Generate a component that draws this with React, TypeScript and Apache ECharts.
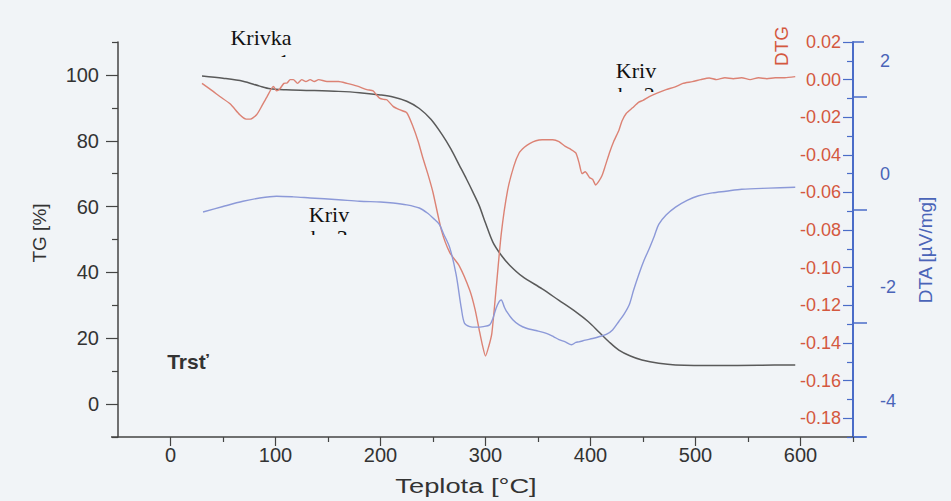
import React, { useEffect, useRef } from "react";
import * as echarts from "echarts";

// ---- Data ----
const TG_T = [30, 50, 69, 85, 95, 110, 133, 160, 180, 200, 212, 225, 237, 248, 259, 267, 275, 282, 288, 294, 300, 307, 315, 323, 335, 354, 370, 386, 398, 408, 418, 427, 438, 449, 465, 481, 520, 560, 595];
const TG_V = [99.7, 99.0, 98.1, 96.6, 95.8, 95.5, 95.3, 95.0, 94.6, 93.9, 93.3, 92.0, 89.8, 86.5, 81.7, 77.5, 72.6, 68.3, 64.4, 60.3, 55.0, 49.2, 45.2, 42.2, 38.8, 35.0, 31.5, 28.0, 25.0, 21.9, 18.8, 16.4, 14.6, 13.4, 12.4, 11.9, 11.7, 11.8, 11.9];

const DTG_T = [30, 40, 47, 57, 66, 72, 76, 82, 87, 92, 98, 101, 104, 108, 111, 114, 117, 121, 125, 129, 133, 137, 141, 149, 160, 168, 178, 187, 193, 196, 199, 203, 206, 212, 218, 225, 231, 236, 240, 245, 250, 258, 266, 275, 285, 290, 294, 297, 300, 303, 306, 310, 315, 321, 327, 332, 337, 342, 348, 354, 364, 370, 376, 381, 386, 389, 392, 395, 399, 402, 405, 408, 411, 414, 418, 422, 427, 430, 434, 440, 446, 450, 456, 464, 472, 480, 488, 497, 505, 513, 520, 528, 536, 544, 552, 560, 568, 576, 585, 595];
const DTG_V = [-0.002, -0.006, -0.009, -0.013, -0.0187, -0.021, -0.021, -0.0187, -0.014, -0.009, -0.0036, -0.006, -0.005, -0.002, -0.0018, 0.0, 0.0, -0.002, 0.0, -0.001, 0.0, -0.001, 0.0, -0.001, -0.001, -0.002, -0.0035, -0.0053, -0.006, -0.008, -0.0098, -0.0105, -0.0107, -0.0142, -0.016, -0.0176, -0.025, -0.033, -0.041, -0.05, -0.06, -0.08, -0.092, -0.099, -0.112, -0.122, -0.133, -0.141, -0.147, -0.142, -0.135, -0.112, -0.082, -0.059, -0.046, -0.039, -0.036, -0.034, -0.0325, -0.032, -0.032, -0.033, -0.0355, -0.037, -0.039, -0.044, -0.05, -0.049, -0.052, -0.053, -0.056, -0.054, -0.051, -0.046, -0.039, -0.033, -0.027, -0.022, -0.018, -0.015, -0.012, -0.011, -0.009, -0.007, -0.0053, -0.004, -0.002, -0.0011, 0.0, 0.0009, 0.0, 0.001, 0.0005, 0.001, 0.0, 0.001, 0.0005, 0.001, 0.001, 0.0016];

const DTA_T = [31, 50, 69, 85, 101, 117, 133, 160, 180, 200, 212, 225, 237, 245, 250, 256, 260, 266, 272, 277, 280, 285, 291, 298, 304, 307, 310, 313, 315, 318, 320, 326, 332, 339, 348, 358, 365, 370, 376, 382, 386, 389, 395, 402, 408, 415, 421, 427, 432, 437, 441, 446, 451, 456, 461, 465, 472, 481, 492, 503, 516, 529, 544, 570, 595];
const DTA_V = [-0.667, -0.57, -0.478, -0.42, -0.389, -0.4, -0.419, -0.45, -0.478, -0.49, -0.507, -0.54, -0.596, -0.69, -0.773, -0.885, -1.05, -1.3, -1.77, -2.37, -2.63, -2.69, -2.7, -2.69, -2.66, -2.55, -2.37, -2.25, -2.22, -2.35, -2.42, -2.57, -2.66, -2.72, -2.76, -2.81, -2.87, -2.92, -2.96, -3.01, -2.97, -2.96, -2.93, -2.9, -2.87, -2.83, -2.75, -2.6, -2.47, -2.3, -2.05, -1.77, -1.52, -1.31, -1.08, -0.885, -0.72, -0.58, -0.46, -0.38, -0.33, -0.3, -0.265, -0.245, -0.23];

const X_LABELS = [0, 100, 200, 300, 400, 500, 600];
const X_MINOR = [50, 150, 250, 350, 450, 550, 650];
const TG_LABELS = [0, 20, 40, 60, 80, 100];
const TG_MINOR = [-10, 10, 30, 50, 70, 90, 110];
const DTG_LABELS = [0.02, 0.0, -0.02, -0.04, -0.06, -0.08, -0.1, -0.12, -0.14, -0.16, -0.18];
const DTG_MINOR = [0.01, -0.01, -0.03, -0.05, -0.07, -0.09, -0.11, -0.13, -0.15, -0.17, -0.19];
const DTA_LABELS = [2, 0, -2, -4];
const DTA_TICKS = [1.37, -0.63, -2.63, -4.63];

const zip = (a: number[], b: number[]) => a.map((t, i) => [t, b[i]]);

const SANS = "Liberation Sans, Arial, sans-serif";
const SERIF = "Liberation Serif, Times New Roman, serif";
const BG = "#f1f4f7";
const RED = "#d4583f";
const BLUE = "#4a64b8";
const AXIS_BLUE = "#4a6cc8";

export default function App() {
  const ref = useRef<HTMLDivElement>(null);
  useEffect(() => {
    if (!ref.current) return;
    const chart = echarts.init(ref.current, null, { renderer: "svg" });
    const option: any = {
      animation: false,
      backgroundColor: BG,
      grid: { left: 118, right: 98, top: 42, bottom: 64, outerBoundsMode: "none" },
      xAxis: [
        {
          type: "value",
          min: -50,
          max: 650,
          position: "bottom",
          axisLine: { show: true, onZero: false, lineStyle: { color: "#444", width: 1.5 } },
          axisTick: { show: true, customValues: X_LABELS, length: 9, lineStyle: { color: "#444", width: 1.2 } },
          axisLabel: { customValues: X_LABELS, fontSize: 20, color: "#333", margin: 8, fontFamily: SANS },
          splitLine: { show: false },
        },
        {
          type: "value",
          min: -50,
          max: 650,
          position: "bottom",
          axisLine: { show: false, onZero: false },
          axisTick: { show: true, customValues: X_MINOR, length: 5, lineStyle: { color: "#444", width: 1.2 } },
          axisLabel: { show: false },
          splitLine: { show: false },
        },
      ],
      yAxis: [
        {
          type: "value",
          min: -10,
          max: 110,
          position: "left",
          axisLine: { show: true, onZero: false, lineStyle: { color: "#444", width: 1.5 } },
          axisTick: { show: true, customValues: TG_LABELS, length: 12, lineStyle: { color: "#444", width: 1.2 } },
          axisLabel: { customValues: TG_LABELS, fontSize: 20, color: "#333", margin: 19, fontFamily: SANS },
          splitLine: { show: false },
        },
        {
          type: "value",
          min: -0.19,
          max: 0.02,
          position: "right",
          axisLine: { show: false, onZero: false },
          axisTick: { show: true, inside: true, customValues: DTG_LABELS, length: 10, lineStyle: { color: AXIS_BLUE, width: 1.2 } },
          axisLabel: {
            inside: true,
            customValues: DTG_LABELS,
            formatter: (v: number) => (Math.abs(v) < 1e-9 ? "0.00" : v.toFixed(2)),
            fontSize: 18,
            color: RED,
            margin: 12,
            fontFamily: SANS,
          },
          splitLine: { show: false },
        },
        {
          type: "value",
          min: -4.64,
          max: 2.335,
          position: "right",
          axisLine: { show: true, onZero: false, lineStyle: { color: AXIS_BLUE, width: 2 } },
          axisTick: { show: true, customValues: DTA_TICKS, length: 14, lineStyle: { color: AXIS_BLUE, width: 1.5 } },
          axisLabel: { customValues: DTA_LABELS, fontSize: 18, color: BLUE, margin: 27, fontFamily: SANS },
          splitLine: { show: false },
        },
        {
          type: "value",
          min: -10,
          max: 110,
          position: "left",
          axisLine: { show: false, onZero: false },
          axisTick: { show: true, customValues: TG_MINOR, length: 6, lineStyle: { color: "#444", width: 1.2 } },
          axisLabel: { show: false },
          splitLine: { show: false },
        },
        {
          type: "value",
          min: -0.19,
          max: 0.02,
          position: "right",
          axisLine: { show: false, onZero: false },
          axisTick: { show: true, inside: true, customValues: DTG_MINOR, length: 6, lineStyle: { color: AXIS_BLUE, width: 1.2 } },
          axisLabel: { show: false },
          splitLine: { show: false },
        },
      ],
      series: [
        {
          name: "TG",
          type: "line",
          xAxisIndex: 0,
          yAxisIndex: 0,
          data: zip(TG_T, TG_V),
          showSymbol: false,
          symbol: "none",
          smooth: 0.3,
          lineStyle: { color: "#5a5a5a", width: 1.5 },
        },
        {
          name: "DTG",
          type: "line",
          xAxisIndex: 0,
          yAxisIndex: 1,
          data: zip(DTG_T, DTG_V),
          showSymbol: false,
          symbol: "none",
          smooth: 0.2,
          lineStyle: { color: "#dc8274", width: 1.4 },
        },
        {
          name: "DTA",
          type: "line",
          xAxisIndex: 0,
          yAxisIndex: 2,
          data: zip(DTA_T, DTA_V),
          showSymbol: false,
          symbol: "none",
          smooth: 0.3,
          lineStyle: { color: "#8c99d8", width: 1.4 },
        },
      ],
      graphic: [
        // axis line overhangs
        { type: "line", z: 0, shape: { x1: 111, y1: 437, x2: 118, y2: 437 }, style: { stroke: "#444", lineWidth: 1.5 } },
        { type: "line", z: 0, shape: { x1: 853, y1: 437, x2: 866, y2: 437 }, style: { stroke: AXIS_BLUE, lineWidth: 1.5 } },
        { type: "line", z: 0, shape: { x1: 853, y1: 42, x2: 864, y2: 42 }, style: { stroke: AXIS_BLUE, lineWidth: 1.5 } },
        // axis names
        { type: "text", x: 39, y: 233, rotation: Math.PI / 2, z: 0, style: { text: "TG [%]", font: `19px ${SANS}`, fill: "#333", align: "center", verticalAlign: "middle" } },
        { type: "text", x: 781, y: 46, rotation: Math.PI / 2, z: 0, style: { text: "DTG", font: `19px ${SANS}`, fill: RED, align: "center", verticalAlign: "middle" } },
        { type: "text", x: 925, y: 250, rotation: Math.PI / 2, z: 0, style: { text: "DTA [µV/mg]", font: `19px ${SANS}`, fill: BLUE, align: "center", verticalAlign: "middle" } },
        { type: "text", x: 466, y: 486, scaleX: 1.3, z: 0, style: { text: "Teplota [°C]", font: `21px ${SANS}`, fill: "#333", align: "center", verticalAlign: "middle" } },
        { type: "text", x: 188, y: 361, z: 0, style: { text: "Trsť", font: `bold 21px ${SANS}`, fill: "#333", align: "center", verticalAlign: "middle" } },
        // curve labels (second lines partly hidden)
        { type: "text", x: 261, y: 37, z: 0, style: { text: "Krivka", font: `22px ${SERIF}`, fill: "#111", align: "center", verticalAlign: "middle" } },
        { type: "text", x: 284, y: 61, z: 0, style: { text: "1", font: `22px ${SERIF}`, fill: "#111", align: "center", verticalAlign: "middle" } },
        { type: "rect", z: 1, shape: { x: 266, y: 57, width: 36, height: 18 }, style: { fill: BG } },
        { type: "text", x: 636, y: 70, z: 0, style: { text: "Kriv", font: `22px ${SERIF}`, fill: "#111", align: "center", verticalAlign: "middle" } },
        { type: "text", x: 636, y: 94, z: 0, style: { text: "ka 2", font: `22px ${SERIF}`, fill: "#111", align: "center", verticalAlign: "middle" } },
        { type: "rect", z: 1, shape: { x: 610, y: 92, width: 55, height: 16 }, style: { fill: BG } },
        { type: "text", x: 329, y: 214, z: 0, style: { text: "Kriv", font: `22px ${SERIF}`, fill: "#111", align: "center", verticalAlign: "middle" } },
        { type: "text", x: 329, y: 237, z: 0, style: { text: "ka 3", font: `22px ${SERIF}`, fill: "#111", align: "center", verticalAlign: "middle" } },
        { type: "rect", z: 1, shape: { x: 303, y: 235, width: 55, height: 16 }, style: { fill: BG } },
      ],
    };
    chart.setOption(option);
    return () => chart.dispose();
  }, []);
  return <div ref={ref} style={{ position: "fixed", left: 0, top: 0, width: 951, height: 501 }} />;
}
